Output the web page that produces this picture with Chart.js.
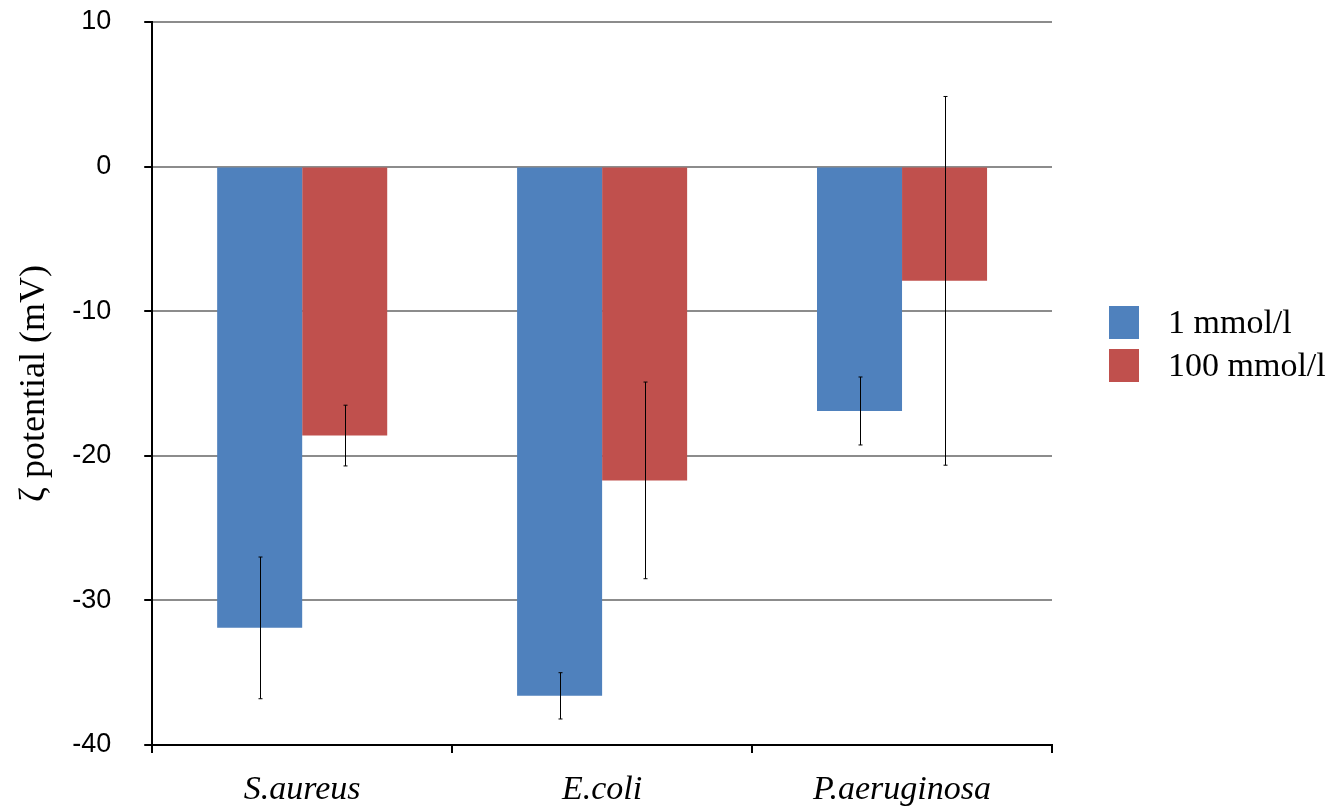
<!DOCTYPE html>
<html>
<head>
<meta charset="utf-8">
<script src="https://cdn.jsdelivr.net/npm/chart.js@4.4.0/dist/chart.umd.min.js"></script>
<style>
  html, body { margin: 0; padding: 0; background: #ffffff; }
  #wrap { width: 1335px; height: 811px; }
</style>
</head>
<body>
<div id="wrap"><canvas id="chart" width="1335" height="811"></canvas></div>
<script>
// categories and series
const categories = ["S.aureus", "E.coli", "P.aeruginosa"];
const seriesNames = ["1 mmol/l", "100 mmol/l"];
const lowSalt = [-31.9, -36.6, -16.9];
const highSalt = [-18.6, -21.7, -7.9];
// error bar half-lengths (mV)
const lowSaltErr = [4.9, 1.6, 2.35];
const highSaltErr = [2.1, 6.8, 12.75];
// y axis
const yMin = -40;
const yMax = 10;
const yStep = 10;

const blue = "#4F81BD";
const red = "#C0504D";

// draws the vertical error bars with tiny caps
const errorBars = {
  id: "errorBars",
  afterDatasetsDraw(chart) {
    const ctx = chart.ctx;
    const y = chart.scales.y;
    const errs = [lowSaltErr, highSaltErr];
    ctx.save();
    ctx.strokeStyle = "#000000";
    ctx.lineWidth = 1;
    chart.data.datasets.forEach(function (ds, i) {
      chart.getDatasetMeta(i).data.forEach(function (bar, j) {
        const v = ds.data[j];
        const top = y.getPixelForValue(v + errs[i][j]);
        const bot = y.getPixelForValue(v - errs[i][j]);
        const x = Math.round(bar.x) + 0.5;
        ctx.beginPath();
        ctx.moveTo(x, top);
        ctx.lineTo(x, bot);
        ctx.moveTo(x - 2, top);
        ctx.lineTo(x + 2, top);
        ctx.moveTo(x - 2, bot);
        ctx.lineTo(x + 2, bot);
        ctx.stroke();
      });
    });
    ctx.restore();
  },
};

// legend at the right, drawn by hand so the gap can be set
const sideLegend = {
  id: "sideLegend",
  afterDraw(chart) {
    const ctx = chart.ctx;
    ctx.save();
    ctx.font = "34px 'Liberation Serif', 'Times New Roman', serif";
    ctx.textBaseline = "middle";
    chart.data.datasets.forEach(function (ds, i) {
      const top = 306 + i * 43;
      ctx.fillStyle = ds.backgroundColor;
      ctx.fillRect(1109, top, 30, 33);
      ctx.fillStyle = "#000000";
      ctx.fillText(ds.label, 1168, top + 18);
    });
    ctx.restore();
  },
};

const canvasRef = document.getElementById("chart");

const myChart = new Chart(canvasRef, {
  type: "bar",
  data: {
    labels: categories,
    datasets: [
      {
        label: seriesNames[0],
        data: lowSalt,
        backgroundColor: blue,
        categoryPercentage: 0.567,
        barPercentage: 1.0,
      },
      {
        label: seriesNames[1],
        data: highSalt,
        backgroundColor: red,
        categoryPercentage: 0.567,
        barPercentage: 1.0,
      },
    ],
  },
  options: {
    responsive: false,
    animation: false,
    layout: {
      padding: { top: 22, right: 283, bottom: -16, left: 13 },
    },
    plugins: {
      legend: { display: false },
      tooltip: { enabled: false },
    },
    scales: {
      x: {
        grid: {
          offset: true,
          drawOnChartArea: false,
          drawTicks: true,
          tickLength: 8,
          tickColor: "#000000",
          lineWidth: 2,
        },
        border: { color: "#000000", width: 2 },
        ticks: {
          color: "#000000",
          padding: 20,
          font: { family: "'Liberation Serif', 'Times New Roman', serif", size: 34, style: "italic", lineHeight: 1 },
        },
      },
      y: {
        min: yMin,
        max: yMax,
        // the wide label padding would otherwise push the plot top down
        afterFit: function (scale) {
          scale.paddingTop = 0;
        },
        ticks: {
          stepSize: yStep,
          color: "#000000",
          padding: 33,
          font: { family: "'Liberation Sans', Arial, sans-serif", size: 27 },
        },
        grid: {
          color: "#8c8c8c",
          lineWidth: 2,
          tickLength: 8,
          tickColor: "#000000",
        },
        border: { color: "#000000", width: 2 },
        title: {
          display: true,
          text: "ζ potential (mV)",
          color: "#000000",
          padding: { top: 0, bottom: -17 },
          font: { family: "'Liberation Serif', 'Times New Roman', serif", size: 36 },
        },
      },
    },
  },
  plugins: [errorBars, sideLegend],
});
</script>
</body>
</html>
